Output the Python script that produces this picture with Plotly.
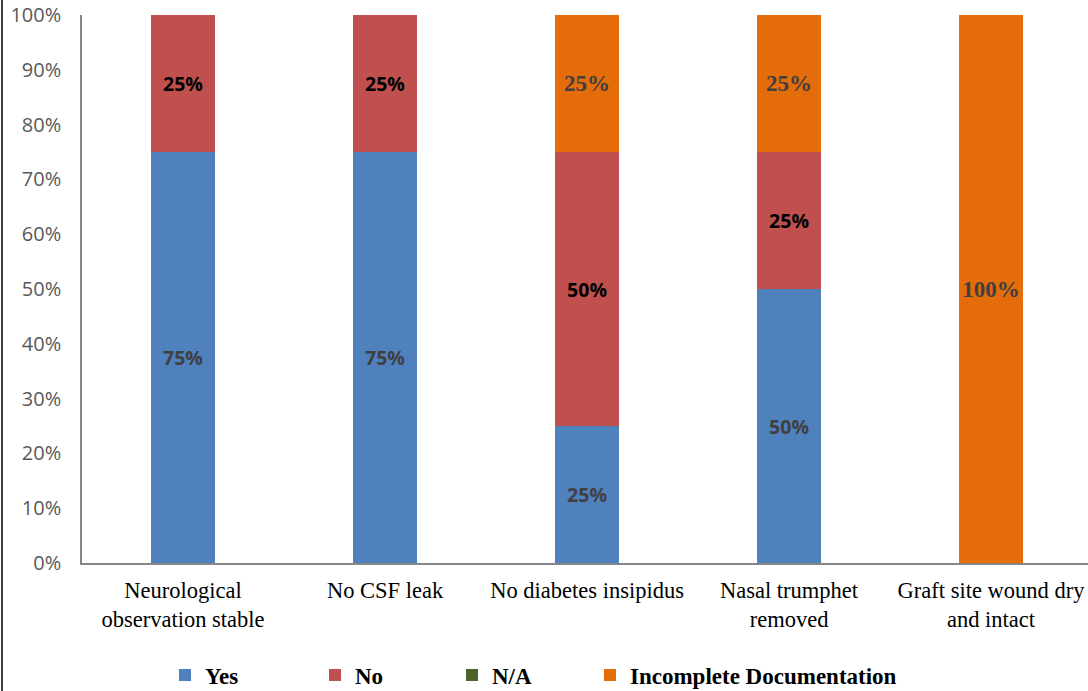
import plotly.graph_objects as go

categories = ["Neurological<br>observation stable", "No CSF leak", "No diabetes insipidus",
              "Nasal trumphet<br>removed", "Graft site wound dry<br>and intact"]
yes = [0.75, 0.75, 0.25, 0.50, 0.0]
no = [0.25, 0.25, 0.50, 0.25, 0.0]
na = [0.0, 0.0, 0.0, 0.0, 0.0]
incomplete = [0.0, 0.0, 0.25, 0.25, 1.0]
y_ticks = [0, 0.1, 0.2, 0.3, 0.4, 0.5, 0.6, 0.7, 0.8, 0.9, 1.0]
y_tick_labels = ["0%", "10%", "20%", "30%", "40%", "50%", "60%", "70%", "80%", "90%", "100%"]

def labels(vals):
    return [f"{round(v*100)}%" if v > 0 else "" for v in vals]

L, T, B = 82, 15, 128
W, H = 1088, 691
PW, PH = W - L, H - T - B

fig = go.Figure()
series = [
    ("Yes", yes, "#4F81BD", dict(family="Open Sans", size=19.5, color="#404040", weight="bold"), "legend", 183),
    ("No", no, "#C0504D", dict(family="Open Sans", size=19.5, color="#000000", weight="bold"), "legend2", 333),
    ("N/A", na, "#4F6228", dict(family="Liberation Serif", size=23, color="#404040", weight="bold"), "legend3", 470),
    ("Incomplete Documentation", incomplete, "#E46C0A",
     dict(family="Liberation Serif", size=23, color="#404040", weight="bold"), "legend4", 608),
]
legend_layout = {}
for name, vals, color, tf, lg, sq in series:
    fig.add_trace(go.Bar(
        name=name, x=categories, y=vals, marker=dict(color=color, line=dict(width=0)),
        text=labels(vals), textposition="inside", insidetextanchor="middle",
        textangle=0, textfont=tf, cliponaxis=False, hoverinfo="skip", legend=lg,
        showlegend=True,
    ))
    legend_layout[lg] = dict(
        orientation="h", xanchor="left", yanchor="middle",
        x=(sq - 18 - L) / PW, y=(563 - 675) / PH,
        font=dict(family="Liberation Serif", size=23, color="#000000", weight="bold"),
        itemwidth=30, bgcolor="rgba(0,0,0,0)", visible=True,
    )

fig.update_layout(
    barmode="stack",
    width=W, height=H,
    showlegend=True,
    margin=dict(l=L, r=0, t=T, b=B, autoexpand=False),
    paper_bgcolor="white", plot_bgcolor="white",
    bargap=0.683,
    xaxis=dict(range=[-0.5, 4.48], showline=True, linecolor="#868686", linewidth=1.5,
               ticks="", tickfont=dict(family="Liberation Serif", size=22.5, color="#000000"),
               showgrid=False, fixedrange=True, automargin=False, ticklabelstandoff=6),
    yaxis=dict(range=[0, 1], tickmode="array", tickvals=y_ticks, ticktext=y_tick_labels,
               showline=True, linecolor="#868686", fixedrange=True,
               linewidth=1.5, ticks="", showgrid=False, zeroline=False, automargin=False,
               ticklabelstandoff=15,
               tickfont=dict(family="Open Sans", size=20, color="#595959")),
    shapes=[dict(type="line", xref="paper", yref="paper", x0=(2 - L) / PW, x1=(2 - L) / PW,
                 y0=-B / PH, y1=T / PH + 1, line=dict(color="black", width=1.5))],
    **legend_layout,
)
fig.write_html("out.html", config={"displayModeBar": False},
               post_script="document.body.style.margin='0';document.body.style.padding='0';")
